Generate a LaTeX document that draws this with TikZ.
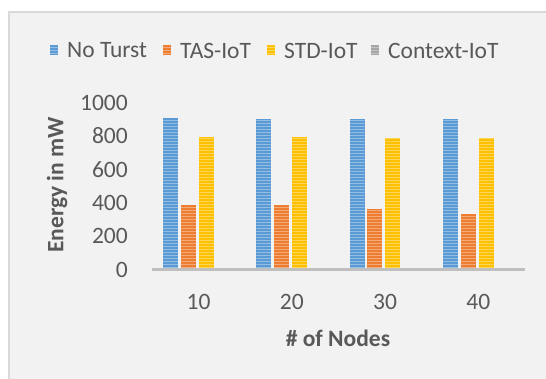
\documentclass[tikz,border=0pt]{standalone}
\usepackage{fontspec}
\setmainfont{Carlito}
\definecolor{txt}{HTML}{595959}
\definecolor{cBlue}{HTML}{5B9BD5}
\definecolor{cOrange}{HTML}{ED7D31}
\definecolor{cYellow}{HTML}{FFC000}
\definecolor{cGray}{HTML}{A5A5A5}
\definecolor{plotbg}{HTML}{F2F2F2}
\definecolor{frameline}{HTML}{D9D9D9}
\definecolor{axisline}{HTML}{BFBFBF}
\tikzset{
  lbl/.style={text=txt, font=\fontsize{23.5}{25}\selectfont, inner sep=0pt},
  ttl/.style={text=txt, font=\fontsize{23.5}{25}\selectfont\bfseries, inner sep=0pt},
}
% striped bar: #1 colour, #2 left x, #3 top y, #4 width, #5 bottom y
\newcommand{\stripebar}[5]{%
  \pgfmathsetmacro{\sbL}{#2}%
  \pgfmathsetmacro{\sbT}{#3}%
  \pgfmathsetmacro{\sbR}{#2+#4}%
  \pgfmathsetmacro{\sbB}{#5}%
  \pgfmathtruncatemacro{\sbN}{(\sbB-\sbT)/3}%
  \fill[#1] (\sbL,\sbT) rectangle (\sbR,\sbB);
  \begin{scope}
    \clip (\sbL,\sbT) rectangle (\sbR,\sbB);
    \foreach \k in {0,...,\sbN}{
      \draw[white, opacity=0.35, line width=0.9pt] (\sbL,\sbB-1.5-3*\k) -- (\sbR,\sbB-1.5-3*\k);
    }
  \end{scope}}
\begin{document}
\begin{tikzpicture}[x=1pt,y=-1pt]
  % canvas and chart frame
  \useasboundingbox (0,0) rectangle (546,379);
  \fill[white] (0,0) rectangle (546,379);
  \fill[plotbg] (9,12) rectangle (546,379);
  \draw[frameline, line width=1.2pt] (9,379) -- (9,12) -- (546,12);

  % legend
  \foreach \c/\x/\t/\n in {cBlue/50/No Turst/lgA, cOrange/163/TAS-IoT/lgB, cYellow/267/STD-IoT/lgC, cGray/371/Context-IoT/lgD}{
    \stripebar{\c}{\x}{45.5}{8}{55}
    \node[lbl, anchor=west] (\n) at (\x+17,50.5) {\t};
  }

  % y tick labels
  \foreach \v in {0,200,...,1000}{
    \node[lbl, anchor=east] (yt\v) at (128,{269.5-0.167*\v}) {\v};
  }

  % bars: groups 10,20,30,40
  \foreach \g/\a/\b/\c in {1/904/383/790, 2/900/385/790, 3/898/359/785, 4/898/330/785}{
    \pgfmathsetmacro{\cx}{152+93.25*(\g-0.5)}
    \stripebar{cBlue}{\cx-35.6}{269-0.167*\a}{15}{269}
    \stripebar{cOrange}{\cx-17.7}{269-0.167*\b}{15}{269}
    \stripebar{cYellow}{\cx+0.2}{269-0.167*\c}{15}{269}
  }

  % x axis
  \draw[axisline, line width=3pt] (152,269.5) -- (525,269.5);
  \foreach \g/\t in {1/10, 2/20, 3/30, 4/40}{
    \node[lbl] (xt\t) at ({152+93.25*(\g-0.5)},302) {\t};
  }

  % axis titles
  \node[ttl] (xtitle) at (338,338) {\# of Nodes};
  \node[ttl, rotate=90] (ytitle) at (57,185) {Energy in mW};
\end{tikzpicture}
\end{document}
